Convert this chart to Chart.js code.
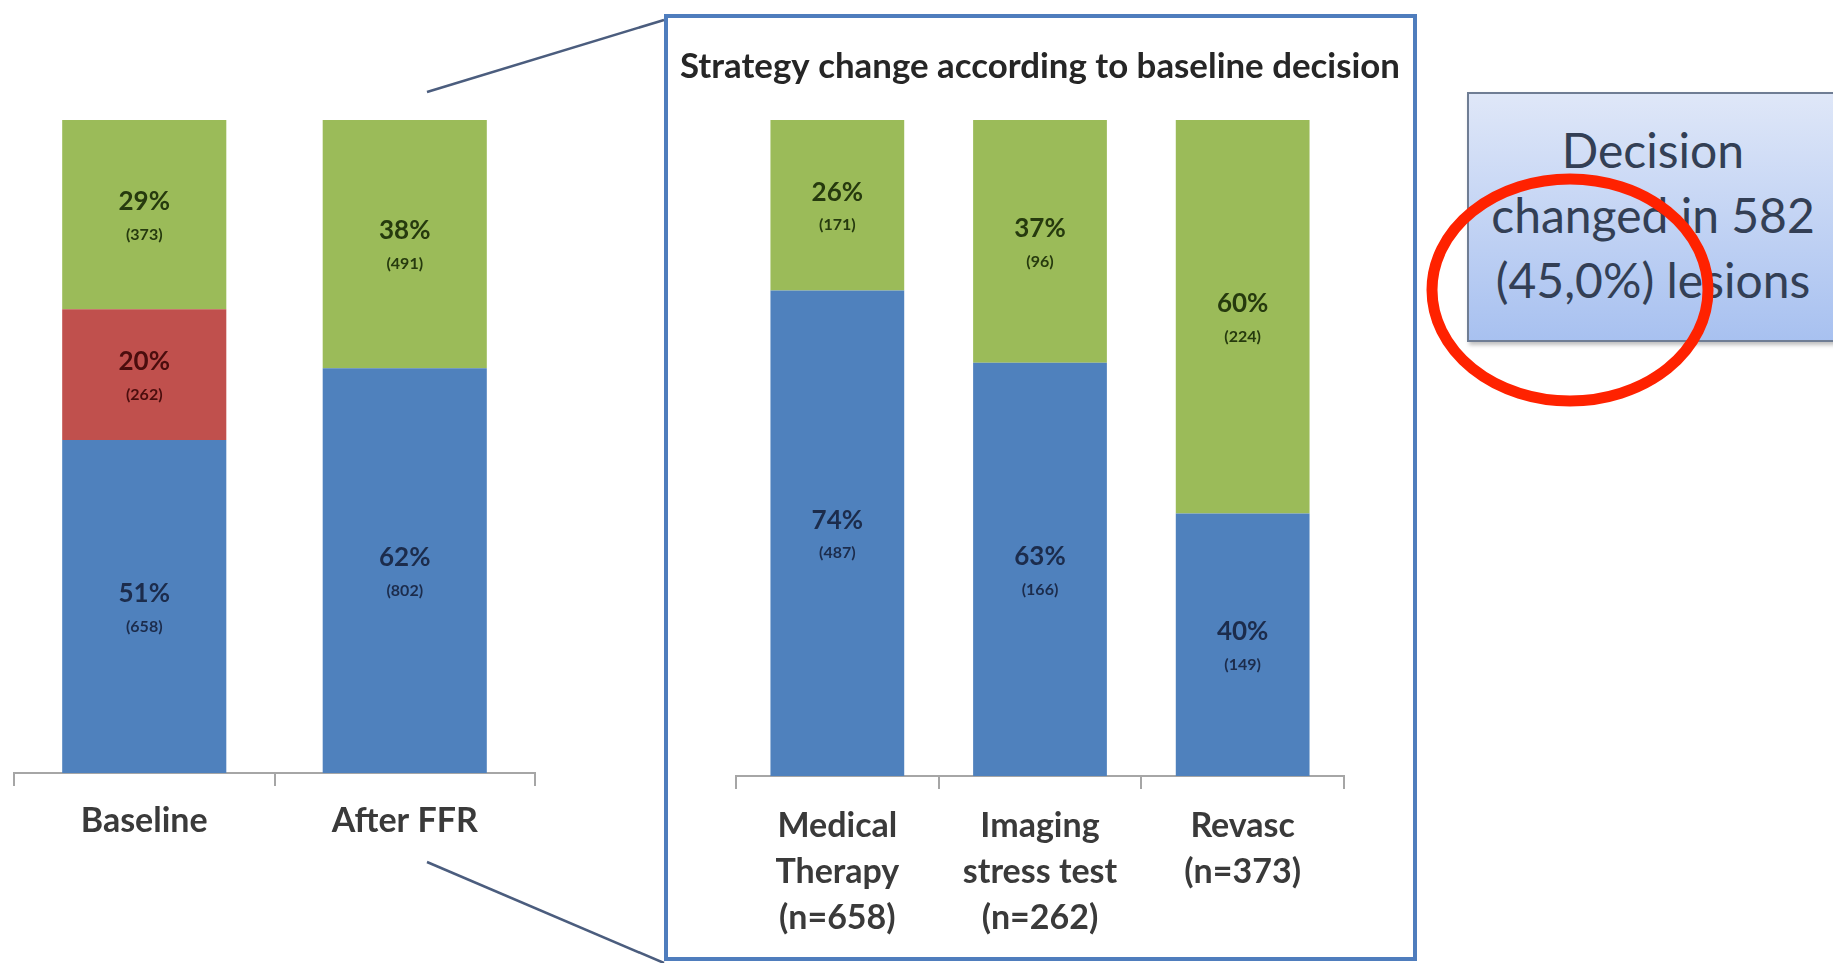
<!DOCTYPE html>
<html lang="en">
<head>
<meta charset="utf-8">
<title>Strategy change after FFR</title>
<script src="https://cdn.jsdelivr.net/npm/chart.js@4/dist/chart.umd.min.js"></script>
<style>
    html, body {
        margin: 0;
        padding: 0;
        width: 1833px;
        height: 963px;
        overflow: hidden;
        background: #ffffff;
        font-family: Lato, "Open Sans", sans-serif;
    }
    .bloco {
        position: absolute;
    }
    #painel {
        position: absolute;
        left: 664px;
        top: 14px;
        width: 753px;
        height: 947px;
        box-sizing: border-box;
        border: 4px solid #4f7dbd;
    }
    #caixa {
        position: absolute;
        left: 1467px;
        top: 92px;
        width: 420px;
        height: 250px;
        box-sizing: border-box;
        border: 2px solid #6f7d94;
        background: linear-gradient(#dfe7f8, #a8c1f0);
        box-shadow: 2px 3px 4px rgba(0, 0, 0, 0.25);
    }
    #caixa-texto {
        position: absolute;
        left: 1467px;
        top: 117px;
        width: 372px;
        text-align: center;
        font-size: 48px;
        line-height: 65px;
        color: #333f55;
    }
    #marcas {
        position: absolute;
        left: 0;
        top: 0;
    }
</style>
</head>
<body>
<div id="painel"></div>
<div class="bloco" style="left:0px; top:0px; width:560px; height:963px;">
    <canvas id="graficoGeral"></canvas>
</div>
<div class="bloco" style="left:680px; top:0px; width:720px; height:963px;">
    <canvas id="graficoDecisao"></canvas>
</div>
<div id="caixa"></div>
<div id="caixa-texto">Decision<br>changed in 582<br>(45,0%) lesions</div>
<svg id="marcas" width="1833" height="963">
    <line x1="427" y1="92" x2="664" y2="20" stroke="#4b5d7e" stroke-width="2.5"/>
    <line x1="427" y1="862" x2="664" y2="963" stroke="#4b5d7e" stroke-width="2.5"/>
    <ellipse cx="1570" cy="290" rx="138" ry="111" fill="none" stroke="#ff2200" stroke-width="11"/>
</svg>
<script>
// Decisão antes e depois do FFR (percentual e número de lesões)
const categoriasGerais = ['Baseline', 'After FFR'];
const percMedico = [51, 62];
const percImagem = [20, 0];
const percRevasc = [29, 38];
const qtdMedico = [658, 802];
const qtdImagem = [262, 0];
const qtdRevasc = [373, 491];

// Mudança de estratégia conforme a decisão inicial
const categoriasDecisao = [
    ['Medical', 'Therapy', '(n=658)'],
    ['Imaging', 'stress test', '(n=262)'],
    ['Revasc', '(n=373)']
];
const percMedicoApos = [74, 63, 40];
const percRevascApos = [26, 37, 60];
const qtdMedicoApos = [487, 166, 149];
const qtdRevascApos = [171, 96, 224];

const tituloDecisao = 'Strategy change according to baseline decision';

// Cores das séries
const corAzul = '#4f81bd';
const corVermelho = '#c0504d';
const corVerde = '#9bbb59';

window.onload = () => {
    apresentarGraficos();
}

// Escreve o percentual e a quantidade no meio de cada segmento
const rotulosPlugin = {
    id: 'rotulos',
    afterDatasetsDraw(chart) {
        const ctx = chart.ctx;
        chart.data.datasets.forEach((ds, i) => {
            const meta = chart.getDatasetMeta(i);
            meta.data.forEach((barra, j) => {
                const valor = ds.data[j];
                if (!valor) return;
                const meio = (barra.y + barra.base) / 2;
                ctx.save();
                ctx.fillStyle = ds.corTexto;
                ctx.textAlign = 'center';
                ctx.textBaseline = 'middle';
                ctx.font = 'bold 26px Lato';
                ctx.fillText(valor + '%', barra.x, meio - 13);
                ctx.font = 'bold 16px Lato';
                ctx.fillText('(' + ds.quantidades[j] + ')', barra.x, meio + 20);
                ctx.restore();
            });
        });
    }
};

function eixoX(altura, espaco) {
    return {
        stacked: true,
        offset: true,
        grid: {
            display: true,
            offset: true,
            drawOnChartArea: false,
            drawTicks: true,
            tickLength: 13,
            color: '#a6a6a6',
            lineWidth: 2
        },
        border: { display: true, color: '#a6a6a6', width: 2 },
        ticks: {
            autoSkip: false,
            maxRotation: 0,
            padding: espaco,
            color: '#3a3a3a',
            font: { family: 'Lato', weight: 'bold', size: 34, lineHeight: 1.35 }
        },
        afterFit: (escala) => { escala.height = altura; }
    };
}

// Eixo vertical invisível que só reserva espaço na lateral
function eixoVazio(lado, largura) {
    return {
        stacked: true,
        position: lado,
        min: 0,
        max: 100,
        ticks: { display: false },
        grid: { display: false },
        border: { display: false },
        afterFit: (escala) => { escala.width = largura; }
    };
}

function apresentarGraficos() {
    new Chart(document.getElementById('graficoGeral'), {
        type: 'bar',
        data: {
            labels: categoriasGerais,
            datasets: [
                { label: 'Medical Therapy', data: percMedico, quantidades: qtdMedico, backgroundColor: corAzul, corTexto: '#1c2c4c' },
                { label: 'Imaging stress test', data: percImagem, quantidades: qtdImagem, backgroundColor: corVermelho, corTexto: '#4a0d0d' },
                { label: 'Revasc', data: percRevasc, quantidades: qtdRevasc, backgroundColor: corVerde, corTexto: '#263a0e' }
            ]
        },
        options: {
            responsive: true,
            maintainAspectRatio: false,
            animation: false,
            layout: { padding: { left: 14, right: 25, top: 120, bottom: 0 } },
            datasets: { bar: { barPercentage: 1, categoryPercentage: 0.63 } },
            plugins: { legend: { display: false }, tooltip: { enabled: false } },
            scales: {
                x: eixoX(190, 12),
                y: { stacked: true, display: false, min: 0, max: 100 }
            }
        },
        plugins: [rotulosPlugin]
    });

    new Chart(document.getElementById('graficoDecisao'), {
        type: 'bar',
        data: {
            labels: categoriasDecisao,
            datasets: [
                { label: 'Medical Therapy', data: percMedicoApos, quantidades: qtdMedicoApos, backgroundColor: corAzul, corTexto: '#1c2c4c' },
                { label: 'Revasc', data: percRevascApos, quantidades: qtdRevascApos, backgroundColor: corVerde, corTexto: '#263a0e' }
            ]
        },
        options: {
            responsive: true,
            maintainAspectRatio: false,
            animation: false,
            layout: { padding: 0 },
            datasets: { bar: { barPercentage: 1, categoryPercentage: 0.66 } },
            plugins: {
                legend: { display: false },
                tooltip: { enabled: false },
                title: {
                    display: true,
                    text: tituloDecisao,
                    color: '#262626',
                    font: { family: 'Lato', weight: 'bold', size: 35, lineHeight: 1.2 },
                    padding: { top: 46, bottom: 32 }
                }
            },
            scales: {
                x: eixoX(187, 14),
                y: eixoVazio('left', 56),
                y2: eixoVazio('right', 56)
            }
        },
        plugins: [rotulosPlugin]
    });
}
</script>
</body>
</html>
